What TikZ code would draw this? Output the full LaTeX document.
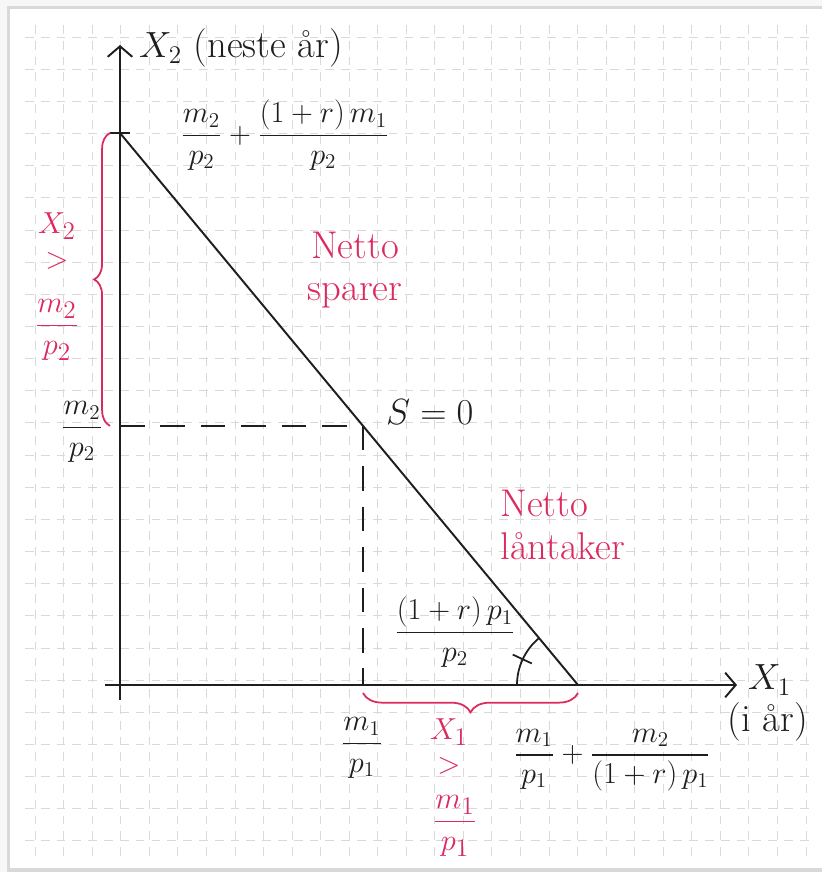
\documentclass[tikz,border=0pt]{standalone}
\usepackage{amsmath}
\usepackage{tikz}
\usetikzlibrary{arrows.meta,calc,decorations.pathreplacing}
\definecolor{hand}{HTML}{DC2A5E}
\definecolor{ink}{HTML}{1E1E1E}

\begin{document}
\begin{tikzpicture}[x=0.02cm, y=0.02cm, font=\fontsize{18}{22}\selectfont,
  axis/.style={line width=1.1pt, ink, -{Straight Barb[length=6pt, width=14pt]}},
  budget/.style={line width=1.1pt, ink},
  guide/.style={line width=1.1pt, ink, dash pattern=on 14pt off 9pt},
  redbrace/.style={line width=1pt, hand, decorate, decoration={brace, amplitude=9pt}},
  redtext/.style={text=hand, align=center, inner sep=0pt, font=\fontsize{22}{24}\selectfont},
  redmath/.style={text=hand, inner sep=0pt, font=\fontsize{19}{22}\selectfont},
  frac/.style={text=ink, inner sep=1pt},
  gridline/.style={gray!30, line width=0.4pt, dash pattern=on 5pt off 4pt}]
\useasboundingbox (0,0) rectangle (822,-872);
% paper and grid
\fill[gray!6] (0,0) rectangle (822,-872);
\fill[gray!30] (7,-6) rectangle (822,-872);
\fill[white] (10,-9) rectangle (822,-868);
\foreach \k in {0,...,27} {\draw[gridline] (35+28.55*\k,-25) -- (35+28.55*\k,-858);}
\foreach \k in {0,...,25} {\draw[gridline] (25,-37-32.15*\k) -- (815,-37-32.15*\k);}
% axes
\coordinate (O) at (120,-685);
\coordinate (ytop) at (120,-133);
\coordinate (xend) at (578,-685);
\coordinate (ybot) at (120,-700);
\coordinate (xbeg) at (105,-685);
\coordinate (yarrow) at (120,-45);
\coordinate (xarrow) at (737,-685);
\draw[axis] (ybot) -- (yarrow);
\draw[axis] (xbeg) -- (xarrow);
\draw[budget] ($(ytop)+(-10,0)$) -- ($(ytop)+(10,0)$);
\draw[budget] (ytop) -- (xend);
\coordinate (S) at ($(ytop)!0.5306!(xend)$);
\draw[guide] (S -| O) -- (S);
\draw[guide] (S) -- (S |- O);
% angle
\draw[budget, line width=1pt] ($(xend)+(-61,0)$) arc[start angle=180, end angle=129.7, radius=61];
\draw[budget, line width=1pt] ($(xend)+(155:51)$) -- ($(xend)+(155:72)$);
% braces
\draw[redbrace] ($(S -| O)+(-10,0)$) -- ($(ytop)+(-10,0)$);
\draw[redbrace, decoration={amplitude=11pt}] ($(xend)+(0,-8)$) -- ($(S |- O)+(0,-8)$);
% labels
\node[anchor=west, text=ink, font=\fontsize{22}{24}\selectfont] (ylab) at (133,-48) {$X_2$ (neste år)};
\node[frac] (yint) at (285,-135) {$\dfrac{m_2}{p_2}+\dfrac{(1+r)\,m_1}{p_2}$};
\node[frac] (m2p2) at (82,-432) {$\dfrac{m_2}{p_2}$};
\node[anchor=west, text=ink, font=\fontsize{21}{24}\selectfont] (szero) at (380,-412) {$S=0$};
\node[redtext] (sparer) at (355,-270) {Netto\\sparer};
\node[redtext, align=left, anchor=west] (laan) at (500,-525) {Netto\\låntaker};
\node[frac] (slope) at (455,-632) {$\dfrac{(1+r)\,p_1}{p_2}$};
\node[anchor=west, text=ink, font=\fontsize{22}{24}\selectfont] (xlab) at (742,-680) {$X_1$};
\node[text=ink, font=\fontsize{22}{24}\selectfont] (xlab2) at (768,-722) {(i år)};
\node[frac] (m1p1) at (362,-748) {$\dfrac{m_1}{p_1}$};
\node[frac] (xint) at (612,-760) {$\dfrac{m_1}{p_1}+\dfrac{m_2}{(1+r)\,p_1}$};
% red conditions
\node[redmath] (x2cond) at (57,-226) {$X_2$};
\node[redmath] (x2gt) at (57,-261) {$>$};
\node[redmath] (x2frac) at (57,-330) {$\dfrac{m_2}{p_2}$};
\node[redmath] (x1cond) at (449,-732) {$X_1$};
\node[redmath] (x1gt) at (449,-766) {$>$};
\node[redmath] (x1frac) at (455,-826) {$\dfrac{m_1}{p_1}$};
\end{tikzpicture}
\end{document}
